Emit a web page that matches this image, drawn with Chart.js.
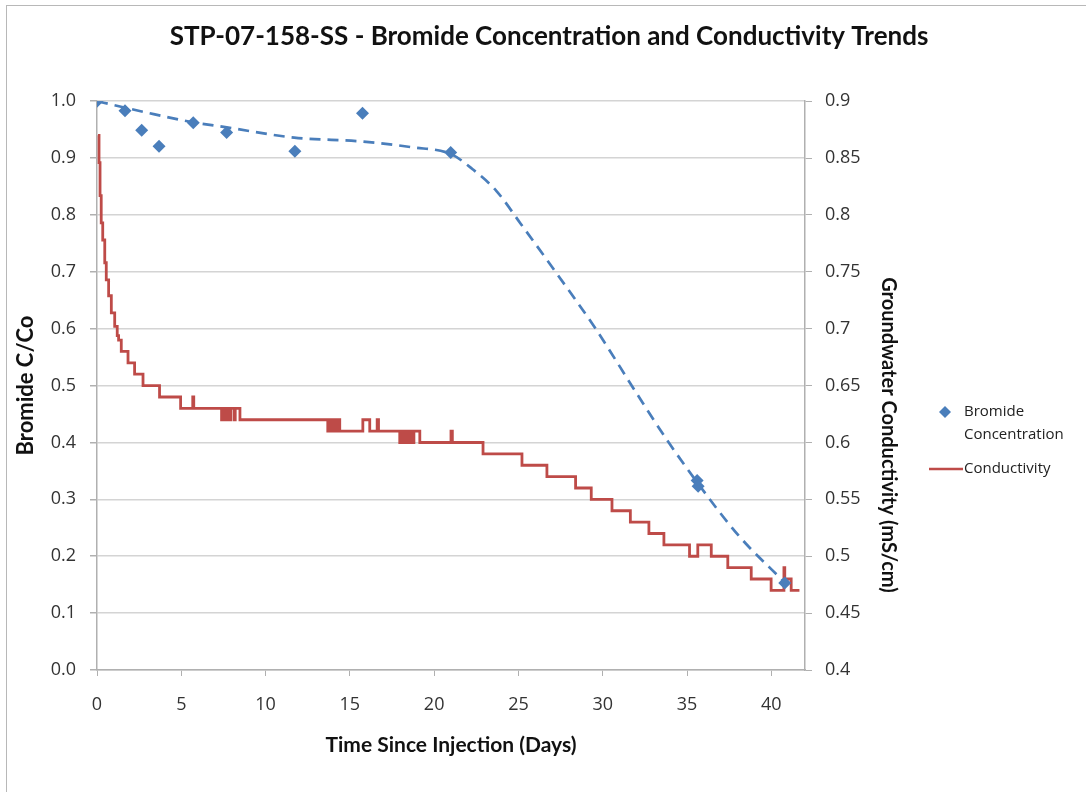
<!DOCTYPE html>
<html>
<head>
<meta charset="utf-8">
<title>STP-07-158-SS - Bromide Concentration and Conductivity Trends</title>
<script src="https://cdn.jsdelivr.net/npm/chart.js@4.4.1/dist/chart.umd.min.js"></script>
<style>
    html, body { margin: 0; padding: 0; background: #fff; overflow: hidden; }
    #wrap { position: relative; width: 1086px; height: 792px; }
    #frame { position: absolute; left: 6px; top: 5px; width: 1200px; height: 900px; border: 1px solid #b8b8b8; }
    #chart { position: absolute; left: 0; top: 0; }
</style>
</head>
<body>
<div id="wrap">
    <div id="frame"></div>
    <canvas id="chart" width="1086" height="792"></canvas>
</div>
<script>
// ==========================================
// DATA
// ==========================================
const bromideDays   = [0, 1.66, 2.65, 3.68, 5.71, 7.69, 11.74, 15.75, 20.98, 35.6, 35.66, 40.8];
const bromideValues = [1.0, 0.983, 0.949, 0.921, 0.962, 0.945, 0.912, 0.979, 0.91, 0.333, 0.323, 0.153];

// smoothed dashed trend through the bromide results
const trendDays   = [0, 2.95, 5.7, 7.7, 11.7, 15.8, 18.7, 21.0, 22.3, 23.7, 25.1, 27.25, 29.6, 32.0, 33.8, 35.6, 38.1, 40.9];
const trendValues = [1.0, 0.98, 0.963, 0.954, 0.936, 0.929, 0.919, 0.907, 0.88, 0.842, 0.786, 0.698, 0.599, 0.487, 0.405, 0.33, 0.235, 0.151];

// conductivity logger: day of each change and the new reading (mS/cm)
const condDays = [0.06, 0.12, 0.18, 0.25, 0.34, 0.46, 0.55, 0.69, 0.85, 1.05, 1.2, 1.28, 1.44, 1.84, 2.23, 2.73, 3.71, 4.96,
    5.68, 5.74, 7.39, 7.5, 7.6, 7.7, 7.8, 7.95, 8.15, 8.2, 8.48, 13.69, 13.8, 13.9, 14.0, 14.15, 14.25, 14.4, 15.77, 16.18,
    16.62, 16.7, 17.96, 18.1, 18.2, 18.3, 18.45, 18.55, 18.7, 18.8, 19.15, 21.0, 21.08, 22.9, 25.21, 26.69, 28.39, 29.32,
    30.55, 31.64, 32.74, 33.63, 35.15, 35.64, 36.44, 37.42, 38.81, 39.99, 40.75, 40.8, 41.18, 41.67];
const condValues = [0.87, 0.846, 0.817, 0.793, 0.778, 0.758, 0.743, 0.729, 0.714, 0.702, 0.694, 0.69, 0.68, 0.67, 0.66, 0.65, 0.64, 0.63,
    0.64, 0.63, 0.62, 0.63, 0.62, 0.63, 0.62, 0.63, 0.62, 0.63, 0.62, 0.61, 0.62, 0.61, 0.62, 0.61, 0.62, 0.61, 0.62, 0.61,
    0.62, 0.61, 0.60, 0.61, 0.60, 0.61, 0.60, 0.61, 0.60, 0.61, 0.60, 0.61, 0.60, 0.59, 0.58, 0.57, 0.56, 0.55,
    0.54, 0.53, 0.52, 0.51, 0.50, 0.51, 0.50, 0.49, 0.48, 0.47, 0.49, 0.48, 0.47, 0.47];

const xTicks = [0, 5, 10, 15, 20, 25, 30, 35, 40];
const legendLabels = [['Bromide', 'Concentration'], ['Conductivity']];
const rightTitle = 'Groundwater Conductivity (mS/cm)';

const BLUE = '#4A7EBB';
const RED = '#BE4B48';
const AXIS = '#b0b0b0';
const GRID = '#d4d4d4';
const TICK_FONT = { family: 'Open Sans', size: 18 };
const TITLE_FONT = { family: 'Lato', size: 21, weight: 'bold' };

const pairs = (xs, ys) => xs.map((x, i) => ({ x: x, y: ys[i] }));

// legend + right axis title, placed like the Excel original
const sideLegend = {
    id: 'sideLegend',
    afterDraw(chart) {
        const ctx = chart.ctx;
        ctx.save();
        ctx.font = '15px "Open Sans"';
        ctx.textBaseline = 'middle';
        ctx.fillStyle = BLUE;
        ctx.beginPath();
        ctx.moveTo(945, 406); ctx.lineTo(951, 412); ctx.lineTo(945, 418); ctx.lineTo(939, 412);
        ctx.closePath(); ctx.fill();
        ctx.fillStyle = '#222';
        ctx.fillText(legendLabels[0][0], 964, 412);
        ctx.fillText(legendLabels[0][1], 964, 435);
        ctx.strokeStyle = RED;
        ctx.lineWidth = 2.5;
        ctx.beginPath(); ctx.moveTo(929, 469); ctx.lineTo(963, 469); ctx.stroke();
        ctx.fillText(legendLabels[1][0], 964, 469);

        ctx.translate(888, 435);
        ctx.rotate(Math.PI / 2);
        ctx.font = 'bold 20px Lato';
        ctx.fillStyle = '#111';
        ctx.textAlign = 'center';
        ctx.fillText(rightTitle, 0, 0);
        ctx.restore();
    }
};

new Chart(document.getElementById('chart'), {
    type: 'scatter',
    data: {
        datasets: [
            {
                label: 'Bromide Concentration',
                data: pairs(bromideDays, bromideValues),
                yAxisID: 'y',
                showLine: false,
                pointStyle: 'rectRot',
                pointRadius: 6.5,
                backgroundColor: BLUE,
                borderColor: BLUE,
                borderWidth: 0
            },
            {
                label: 'Trend',
                data: pairs(trendDays, trendValues),
                yAxisID: 'y',
                showLine: true,
                pointRadius: 0,
                borderColor: BLUE,
                borderWidth: 2.7,
                borderDash: [11, 7],
                cubicInterpolationMode: 'monotone'
            },
            {
                label: 'Conductivity',
                data: pairs(condDays, condValues),
                yAxisID: 'y1',
                showLine: true,
                stepped: 'before',
                pointRadius: 0,
                borderColor: RED,
                borderWidth: 2.8
            }
        ]
    },
    options: {
        responsive: false,
        devicePixelRatio: 1,
        animation: false,
        layout: { padding: { left: 12, right: 0, top: 0, bottom: 22 } },
        plugins: {
            legend: { display: false },
            tooltip: { enabled: false },
            title: {
                display: true,
                text: 'STP-07-158-SS - Bromide Concentration and Conductivity Trends',
                color: '#111',
                font: { family: 'Lato', size: 26, weight: 'bold' },
                padding: { top: 21, bottom: 49 }
            }
        },
        scales: {
            x: {
                type: 'linear',
                min: 0,
                max: 42,
                afterFit: (s) => { s.height = 100; },
                afterBuildTicks: (s) => { s.ticks = xTicks.map(v => ({ value: v })); },
                grid: { drawOnChartArea: false, tickLength: 6, tickColor: AXIS },
                border: { color: AXIS, width: 1.5 },
                ticks: { font: TICK_FONT, color: '#333', padding: 18, maxRotation: 0 },
                title: { display: true, text: 'Time Since Injection (Days)', font: TITLE_FONT, color: '#111', padding: { top: 0, bottom: 12 } }
            },
            y: {
                position: 'left',
                min: 0,
                max: 1,
                afterFit: (s) => { s.width = 85; },
                grid: { color: GRID, lineWidth: 1.5, tickLength: 7, tickColor: AXIS },
                border: { color: AXIS, width: 1.5 },
                ticks: { stepSize: 0.1, font: TICK_FONT, color: '#333', padding: 14, callback: (v) => v.toFixed(1) },
                title: { display: true, text: 'Bromide C/Co', font: { family: 'Lato', size: 22, weight: 'bold' }, color: '#111', padding: { top: 1, bottom: 0 } }
            },
            y1: {
                position: 'right',
                min: 0.4,
                max: 0.9,
                afterFit: (s) => { s.width = 281; },
                grid: { drawOnChartArea: false, tickLength: 7, tickColor: AXIS },
                border: { color: AXIS, width: 1.5 },
                ticks: { stepSize: 0.05, font: TICK_FONT, color: '#333', padding: 13, callback: (v) => String(+v.toFixed(2)) },
                title: { display: false }
            }
        }
    },
    plugins: [sideLegend]
});
</script>
</body>
</html>
